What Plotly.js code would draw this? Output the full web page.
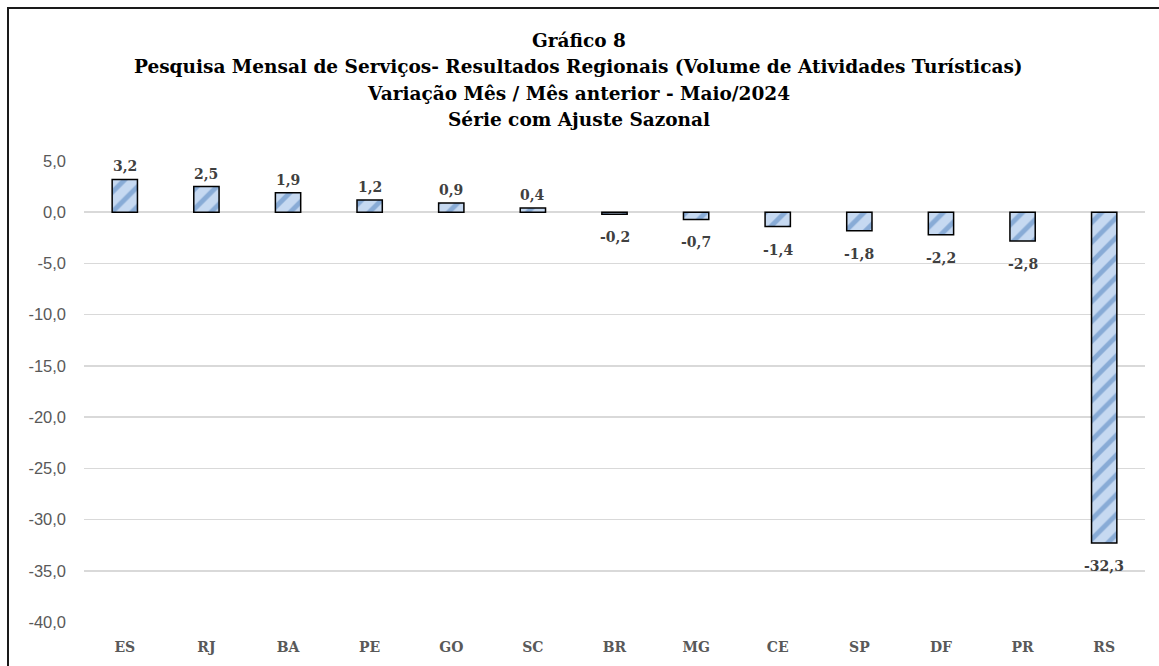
<!DOCTYPE html>
<html><head><meta charset="utf-8">
<script src="https://cdn.plot.ly/plotly-3.0.1.min.js"></script>
<style>
html,body{margin:0;padding:0;background:#fff;}
#wrap{position:relative;width:1159px;height:666px;overflow:hidden;}
#chart{position:absolute;left:0;top:0;width:1159px;height:666px;}
#frame{position:absolute;left:7px;top:7px;width:1170px;height:700px;border:2px solid #1a1a1a;box-sizing:border-box;pointer-events:none;}
</style></head>
<body><div id="wrap"><div id="chart"></div><div id="frame"></div></div>
<script>
const regions = ["ES","RJ","BA","PE","GO","SC","BR","MG","CE","SP","DF","PR","RS"];
const variation = [3.2, 2.5, 1.9, 1.2, 0.9, 0.4, -0.2, -0.7, -1.4, -1.8, -2.2, -2.8, -32.3];
const yTicks = [5,0,-5,-10,-15,-20,-25,-30,-35,-40];
const titleLines = ["Gráfico 8","Pesquisa Mensal de Serviços- Resultados Regionais (Volume de Atividades Turísticas)","Variação Mês / Mês anterior - Maio/2024","Série com Ajuste Sazonal"];

const serif = "DejaVu Serif, Liberation Serif, serif";
const fmt = v => v.toFixed(1).replace(".", ",");

const trace = {
  type: "bar",
  x: regions,
  y: variation,
  marker: {
    color: "#c6d9f1",
    line: {color: "#000", width: 1.5},
    pattern: {shape: "/", fgcolor: "#4a7ebb", bgcolor: "#c6d9f1", size: 14, solidity: 0.35, fillmode: "overlay"}
  },
  hoverinfo: "skip"
};

const titleY = [40, 66.5, 93.5, 119.5];
const titleX = (578.5 - 84) / 1061;
const annotations = titleLines.map((t, i) => ({
  xref: "paper", yref: "paper", x: titleX, y: 1, xanchor: "center", yanchor: "middle",
  yshift: 161 - titleY[i], text: "<b>" + t + "</b>", showarrow: false,
  font: {family: serif, size: 18.5, color: "#000"}
})).concat(regions.map((r, i) => ({
  x: r, y: variation[i], xref: "x", yref: "y",
  text: "<b>" + fmt(variation[i]) + "</b>", showarrow: false,
  yanchor: "middle", yshift: variation[i] >= 0 ? 13 : -23,
  font: {family: serif, size: 14, color: "#404040"}
})));

const layout = {
  width: 1159, height: 666,
  margin: {l: 84, r: 14, t: 161, b: 44},
  paper_bgcolor: "#fff", plot_bgcolor: "#fff",
  bargap: 0.69,
  showlegend: false,
  annotations: annotations,
  xaxis: {
    type: "category",
    showgrid: false, zeroline: false, showline: false,
    tickfont: {family: serif, size: 14, color: "#595959", weight: "bold"},
    ticklabelstandoff: 15,
    fixedrange: true
  },
  yaxis: {
    range: [-40, 5],
    tickvals: yTicks,
    ticktext: yTicks.map(fmt),
    showgrid: true, gridcolor: "#d9d9d9", gridwidth: 1.5,
    zeroline: true, zerolinecolor: "#d9d9d9", zerolinewidth: 1.5,
    showline: false,
    tickfont: {family: "Liberation Sans, Arial, sans-serif", size: 16.5, color: "#595959"},
    ticklabelstandoff: 17,
    fixedrange: true
  }
};
Plotly.newPlot("chart", [trace], layout, {displayModeBar: false, staticPlot: true});
</script></body></html>
